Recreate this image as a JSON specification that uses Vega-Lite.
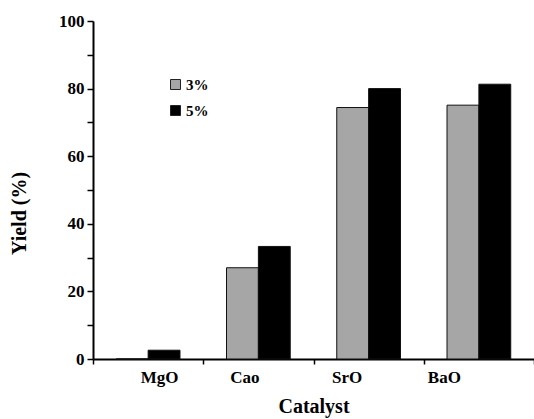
{
  "$schema": "https://vega.github.io/schema/vega-lite/v6.json",
  "width": 441,
  "height": 338,
  "autosize": "none",
  "padding": {"left": 93, "top": 21, "right": 0, "bottom": 60},
  "background": "white",
  "config": {"view": {"stroke": null}, "font": "Liberation Serif"},
  "data": {
    "values": [
      {"catalyst": "MgO", "loading": "3%", "yield": 0},
      {"catalyst": "MgO", "loading": "5%", "yield": 2.6},
      {"catalyst": "Cao", "loading": "3%", "yield": 27.0},
      {"catalyst": "Cao", "loading": "5%", "yield": 33.3},
      {"catalyst": "SrO", "loading": "3%", "yield": 74.4},
      {"catalyst": "SrO", "loading": "5%", "yield": 80.0},
      {"catalyst": "BaO", "loading": "3%", "yield": 75.1},
      {"catalyst": "BaO", "loading": "5%", "yield": 81.3}
    ]
  },
  "mark": {"type": "bar", "stroke": "#111111", "strokeWidth": 1},
  "encoding": {
    "x": {
      "field": "catalyst",
      "type": "nominal",
      "sort": ["MgO", "Cao", "SrO", "BaO"],
      "scale": {"paddingInner": 0, "paddingOuter": 0},
      "axis": {
        "title": "Catalyst",
        "titleFontSize": 20,
        "titleFontWeight": "bold",
        "titleColor": "black",
        "titlePadding": 11,
        "labelAngle": 0,
        "labelFontSize": 17,
        "labelFontWeight": "bold",
        "labelColor": "black",
        "labelPadding": 5,
        "tickBand": "extent",
        "tickSize": 5,
        "tickWidth": 1.5,
        "tickColor": "black",
        "domainColor": "black",
        "domainWidth": 2,
        "labelOffset": {"expr": "datum.value === 'MgO' ? 11 : datum.value === 'Cao' ? -14 : datum.value === 'SrO' ? -22 : -35"}
      }
    },
    "xOffset": {
      "field": "loading",
      "sort": ["3%", "5%"],
      "scale": {"paddingInner": 0, "paddingOuter": 0.73}
    },
    "y": {
      "field": "yield",
      "type": "quantitative",
      "scale": {"domain": [0, 100], "nice": false},
      "axis": {
        "title": "Yield (%)",
        "titleFontSize": 20,
        "titleFontWeight": "bold",
        "titleColor": "black",
        "titleX": -64,
        "titleY": 192,
        "values": [0, 10, 20, 30, 40, 50, 60, 70, 80, 90, 100],
        "labelExpr": "datum.value % 20 === 0 ? datum.label : ''",
        "labelFontSize": 17,
        "labelFontWeight": "bold",
        "labelColor": "black",
        "labelPadding": 3,
        "tickSize": 6,
        "tickWidth": 1.5,
        "tickColor": "black",
        "domainColor": "black",
        "domainWidth": 2,
        "grid": false
      }
    },
    "color": {
      "field": "loading",
      "type": "nominal",
      "scale": {"domain": ["3%", "5%"], "range": ["#a6a6a6", "#000000"]},
      "legend": {
        "title": null,
        "orient": "none",
        "legendX": 75,
        "legendY": 56,
        "symbolType": "square",
        "symbolSize": 100,
        "symbolStrokeColor": "#222222",
        "symbolStrokeWidth": 1,
        "labelFontSize": 15,
        "labelFontWeight": "bold",
        "labelColor": "black",
        "labelOffset": 3,
        "rowPadding": 10
      }
    }
  }
}
